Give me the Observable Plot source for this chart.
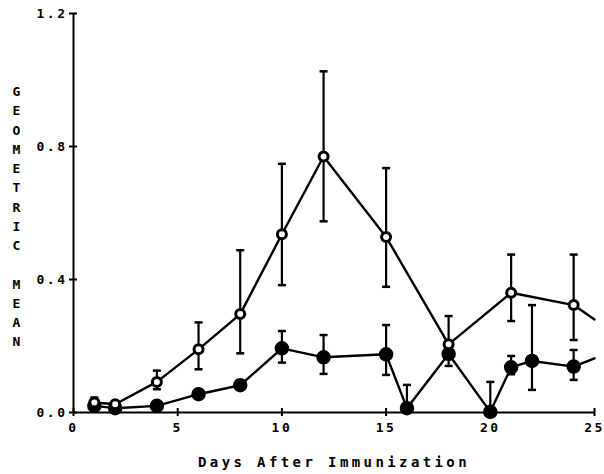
<!DOCTYPE html>
<html>
<head>
<meta charset="utf-8">
<script src="https://cdn.jsdelivr.net/npm/d3@7"></script>
<script src="https://cdn.jsdelivr.net/npm/@observablehq/plot@0.6"></script>
<style>
  html, body { margin: 0; padding: 0; background: #fff; }
  #chart { width: 604px; height: 474px; }
  #chart g[aria-label="x-axis tick label"] text,
  #chart g[aria-label="y-axis tick label"] text { letter-spacing: 2.5px; }
  #chart g[aria-label="x-axis label"] text { letter-spacing: 3.4px; }
</style>
</head>
<body>
<div id="chart"></div>
<script>
// ---- data ----
const xTicks = [0, 5, 10, 15, 20, 25];
const yTicks = [0, 0.4, 0.8, 1.2];
const xLabel = "Days After Immunization";
const yLabel = "G\nE\nO\nM\nE\nT\nR\nI\nC\n\nM\nE\nA\nN";

// open-circle series
const openDays = [1, 2, 4, 6, 8, 10, 12, 15, 18, 21, 24];
const openMean = [0.03, 0.025, 0.092, 0.19, 0.296, 0.536, 0.77, 0.528, 0.205, 0.36, 0.323];
const openLo   = [0.015, 0.015, 0.07, 0.13, 0.178, 0.383, 0.575, 0.378, 0.17, 0.275, 0.218];
const openHi   = [0.045, 0.032, 0.126, 0.271, 0.488, 0.748, 1.026, 0.735, 0.29, 0.475, 0.475];
// line continues past the last marker to the edge
const openLineDays = [1, 2, 4, 6, 8, 10, 12, 15, 18, 21, 24, 25];
const openLineMean = [0.03, 0.025, 0.092, 0.19, 0.296, 0.536, 0.77, 0.528, 0.205, 0.36, 0.323, 0.28];

// filled-circle series
const filledDays = [1, 2, 4, 6, 8, 10, 12, 15, 16, 18, 20, 21, 22, 24];
const filledMean = [0.02, 0.013, 0.02, 0.055, 0.082, 0.193, 0.166, 0.175, 0.013, 0.176, 0.002, 0.136, 0.155, 0.138];
const filledLo   = [0.005, 0.005, null, null, null, 0.15, 0.116, 0.113, 0.0, 0.14, 0.0, 0.115, 0.068, 0.098];
const filledHi   = [0.04, 0.025, null, null, null, 0.245, 0.233, 0.263, 0.083, 0.21, 0.092, 0.17, 0.323, 0.188];
const filledLineDays = [1, 2, 4, 6, 8, 10, 12, 15, 16, 18, 20, 21, 22, 24, 25];
const filledLineMean = [0.02, 0.013, 0.02, 0.055, 0.082, 0.193, 0.166, 0.175, 0.013, 0.176, 0.002, 0.136, 0.155, 0.138, 0.163];

// ---- tables ----
const openPts = openDays.map((d, i) => ({day: d, mean: openMean[i], lo: openLo[i], hi: openHi[i]}));
const filledPts = filledDays.map((d, i) => ({day: d, mean: filledMean[i], lo: filledLo[i], hi: filledHi[i]}));
const openLine = openLineDays.map((d, i) => ({day: d, mean: openLineMean[i]}));
const filledLine = filledLineDays.map((d, i) => ({day: d, mean: filledLineMean[i]}));
const errs = [...openPts, ...filledPts].filter(d => d.lo != null && d.hi != null);
const caps = errs.flatMap(d => [{day: d.day, v: d.lo}, {day: d.day, v: d.hi}]);

const capSymbol = {
  draw(ctx, size) {
    const w = 4;
    ctx.moveTo(-w, 0);
    ctx.lineTo(w, 0);
  }
};

const FONT = "'DejaVu Sans Mono', monospace";

const chart = Plot.plot({
  width: 604,
  height: 474,
  marginLeft: 73,
  marginRight: 10,
  marginTop: 13,
  marginBottom: 62,
  style: {fontFamily: FONT, fontWeight: "bold", fontSize: "13px", color: "#000", background: "#fff"},
  x: {domain: [0, 25]},
  y: {domain: [0, 1.2]},
  marks: [
    // axis lines
    Plot.ruleX([0], {stroke: "#000", strokeWidth: 2}),
    Plot.ruleY([0], {stroke: "#000", strokeWidth: 2}),
    // crossing tick marks
    Plot.axisX({ticks: xTicks, tickSize: 8, tickFormat: () => "", dy: -4, strokeWidth: 2, label: null}),
    Plot.axisY({ticks: yTicks, tickSize: 8, tickFormat: () => "", dx: 4, strokeWidth: 2, label: null}),
    // tick labels
    Plot.axisX({ticks: xTicks, tickSize: 0, tickPadding: 10, tickFormat: d3.format("d"),
      fontSize: 13, fontWeight: "bold",
      label: xLabel, labelAnchor: "center", labelArrow: "none", labelOffset: 54}),
    Plot.axisY({ticks: yTicks, tickSize: 0, tickPadding: 6, tickFormat: d3.format(".1f"),
      fontSize: 13, fontWeight: "bold", label: null}),
    // stacked y label
    Plot.text([yLabel], {frameAnchor: "top-left", dx: -57, dy: 69, lineAnchor: "top",
      lineHeight: 1.48, fontSize: 13, fontWeight: "bold", textAnchor: "middle"}),
    // error bars
    Plot.ruleX(errs, {x: "day", y1: "lo", y2: "hi", stroke: "#000", strokeWidth: 2.2}),
    Plot.dot(caps, {x: "day", y: "v", symbol: capSymbol, stroke: "#000", strokeWidth: 2.5, r: 4}),
    // lines
    Plot.line(openLine, {x: "day", y: "mean", stroke: "#000", strokeWidth: 2.4}),
    Plot.line(filledLine, {x: "day", y: "mean", stroke: "#000", strokeWidth: 2.4}),
    // markers
    Plot.dot(filledPts, {x: "day", y: "mean", r: 6.5, fill: "#000", stroke: "#000"}),
    Plot.dot(openPts, {x: "day", y: "mean", r: 4.5, fill: "#fff", stroke: "#000", strokeWidth: 3})
  ]
});

// x-axis label font size
const xl = chart.querySelector('g[aria-label="x-axis label"]');
if (xl) xl.setAttribute("font-size", 14);

document.getElementById("chart").appendChild(chart);
</script>
</body>
</html>
